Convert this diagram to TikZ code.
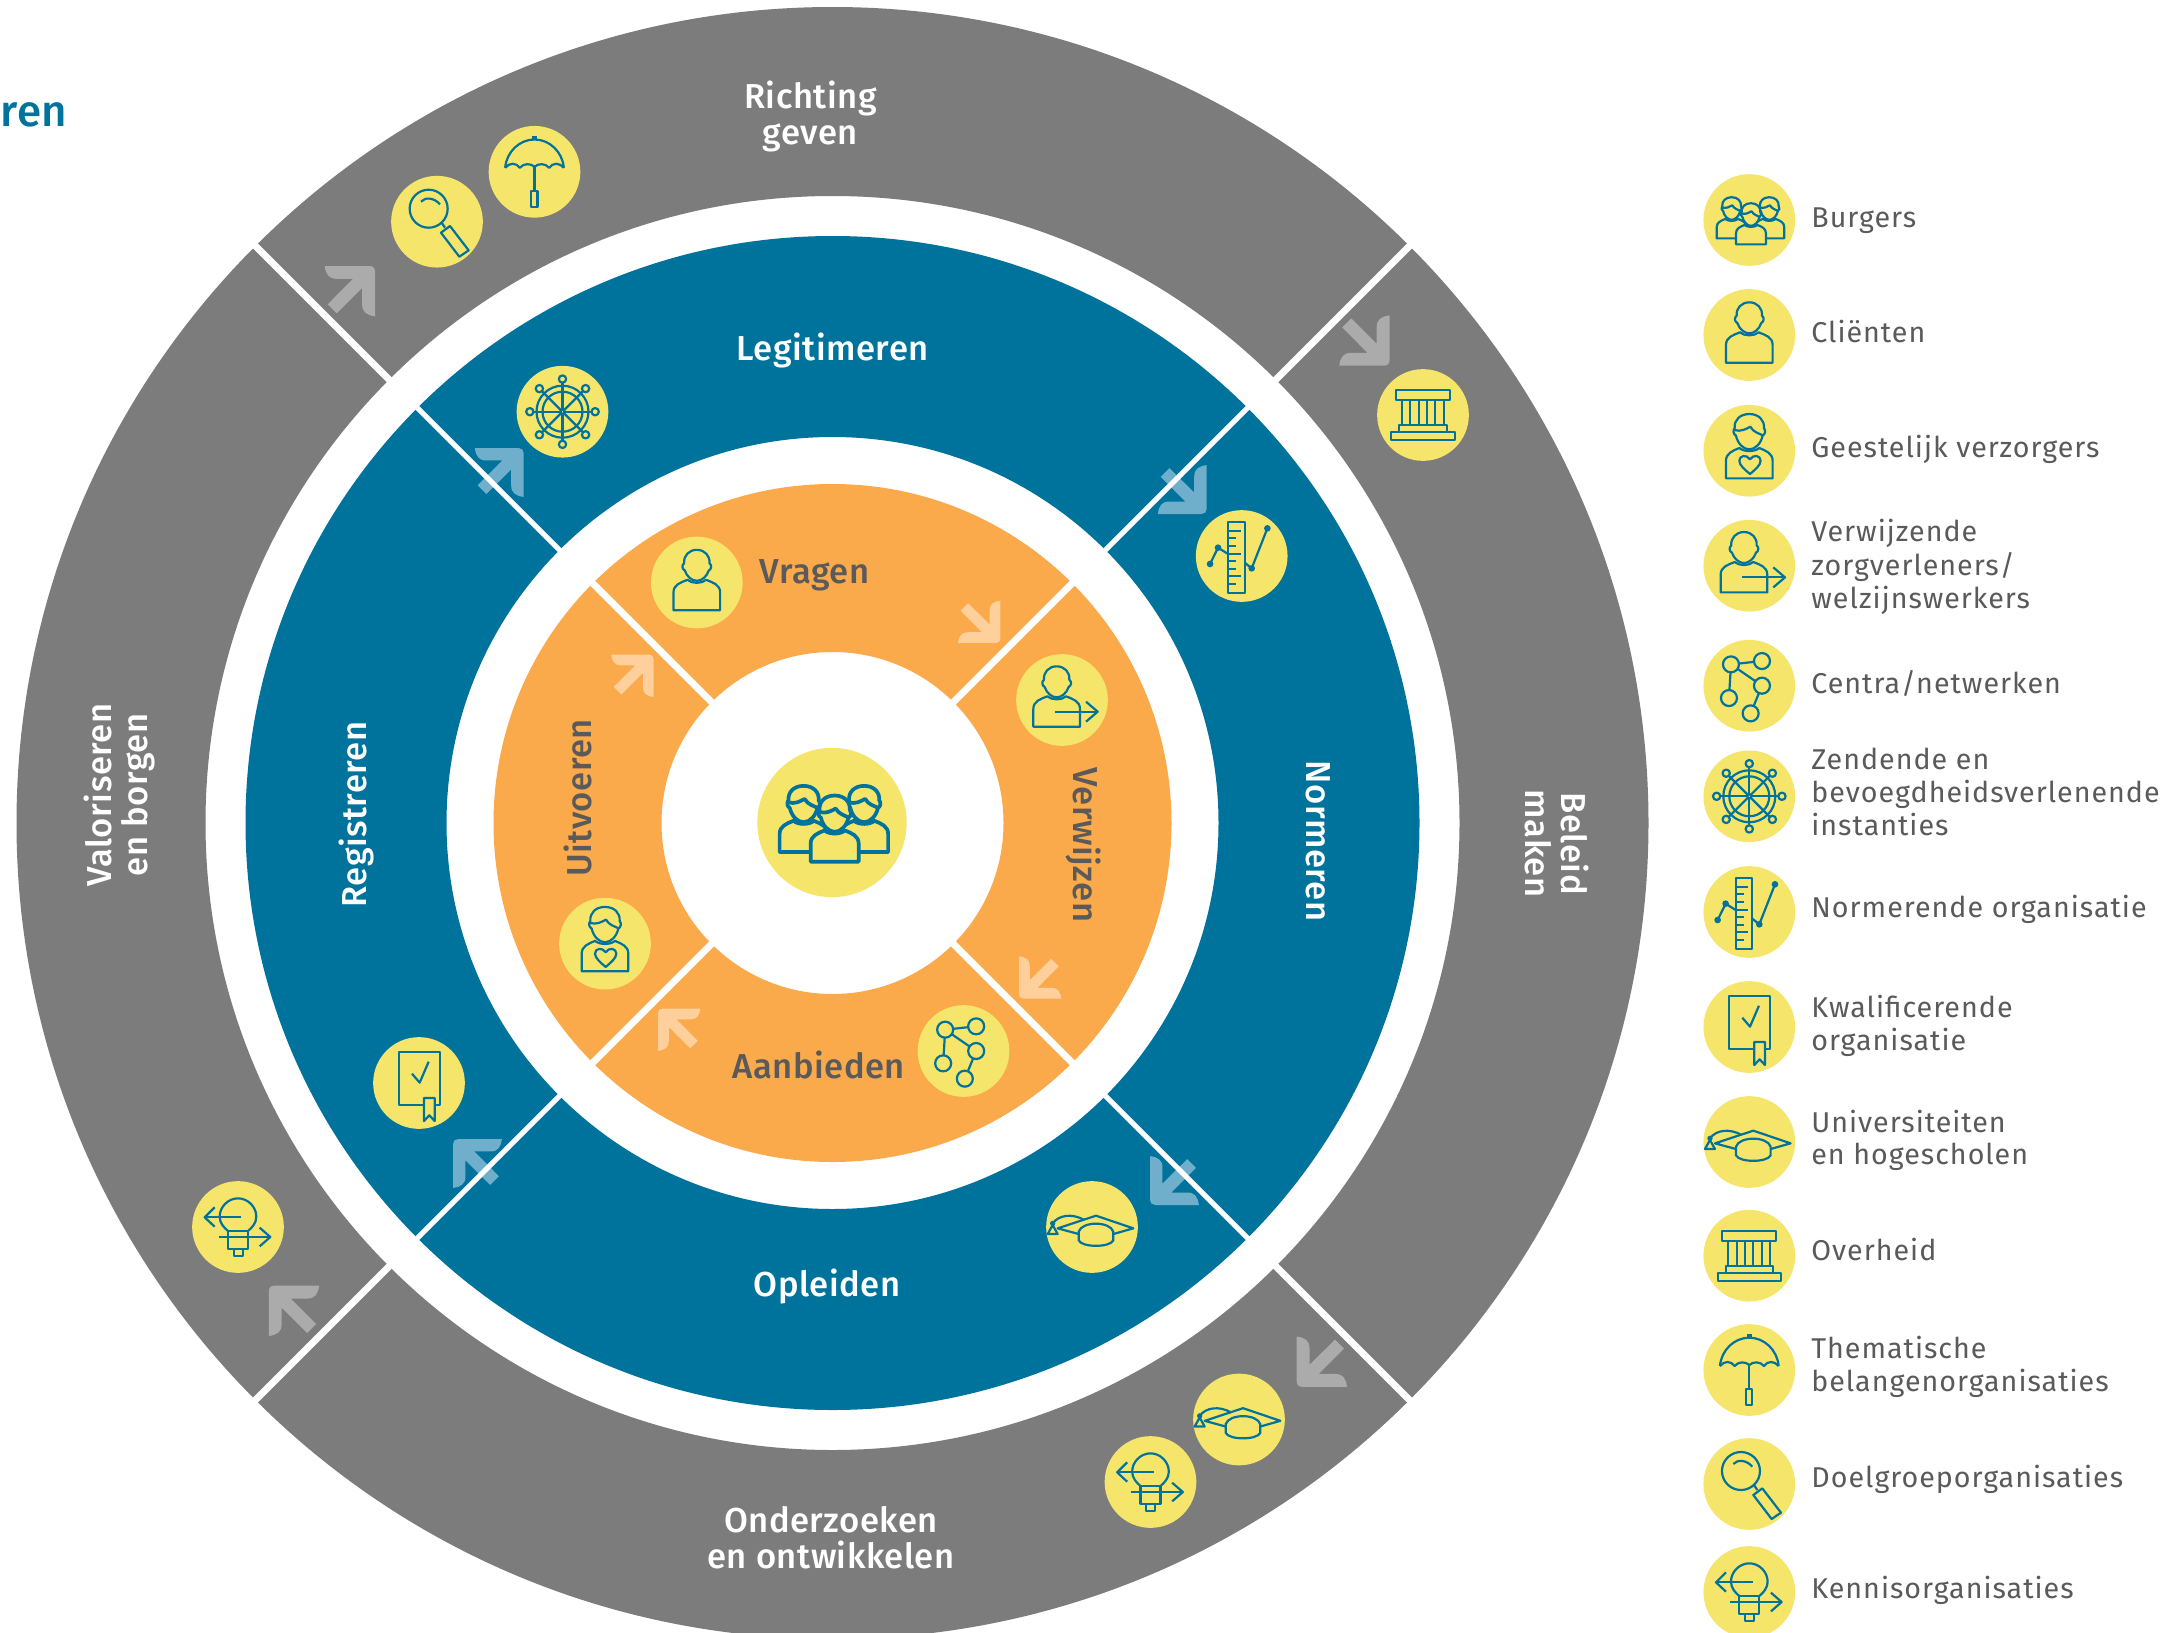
\documentclass[tikz,border=0pt]{standalone}
\usepackage{fontspec}
\setmainfont{Fira Sans}
\newfontfamily\legendfont[LetterSpace=3.5]{Fira Sans}
\newfontfamily\wheelfont[LetterSpace=1.5,BoldFont={Fira Sans Medium}]{Fira Sans}
\definecolor{ringgray}{HTML}{7C7C7C}
\definecolor{ringblue}{HTML}{00739C}
\definecolor{ringorange}{HTML}{FAA94B}
\definecolor{badgeY}{HTML}{F6E56B}
\definecolor{labelgray}{HTML}{5A5A5A}
\definecolor{arrowgray}{HTML}{ABABAB}
\definecolor{arrowblue}{HTML}{70AFCB}
\definecolor{arroworange}{HTML}{FFD09C}
\tikzset{
  iconline/.style={draw=ringblue,line width=1.25pt,line join=round},
  badgedisc/.style={circle,fill=badgeY,inner sep=0pt,minimum size=52.2pt},
  bigdisc/.style={circle,fill=badgeY,inner sep=0pt,minimum size=85pt},
  legendtext/.style={anchor=west,inner sep=0pt,align=left,text=labelgray,font=\legendfont\fontsize{16.3}{17.3}\selectfont},
  wlabel/.style={inner sep=0pt,align=center,font=\wheelfont\bfseries\fontsize{19.7}{20.4}\selectfont},
  whitelabel/.style={wlabel,text=white},
  darklabel/.style={wlabel,text=labelgray},
  sepline/.style={draw=white},
  chev/.pic={
    \fill[#1] (-47,0) -- (-5,0) .. controls (-2,0) and (0,2) .. (0,5) -- (0,47)
      .. controls (-8,46) and (-12,43) .. (-12,36) -- (-12,20.5) -- (-35.8,44.2) -- (-44.2,35.8)
      -- (-20.5,12) -- (-36,12) .. controls (-43,12) and (-46,8) .. (-47,0) -- cycle;
  }
}
\newcommand{\plainperson}{%
  \draw[iconline,fill=badgeY] (-70,83) -- (-70,30) .. controls (-70,6) and (-48,0) .. (-28,-8) .. controls (-15,4) and (15,4) .. (28,-8) .. controls (48,0) and (70,6) .. (70,30) -- (70,83) -- cycle;
  \draw[iconline,fill=badgeY] (0,-98) .. controls (24,-98) and (40,-80) .. (38,-58) .. controls (46,-52) and (44,-40) .. (36,-36) .. controls (30,-18) and (15,-5) .. (0,-5) .. controls (-15,-5) and (-30,-18) .. (-36,-36) .. controls (-44,-40) and (-46,-52) .. (-38,-58) .. controls (-40,-80) and (-24,-98) .. (0,-98) -- cycle;
}
\newcommand{\hairperson}{%
  \draw[iconline,fill=badgeY] (-70,83) -- (-70,30) .. controls (-70,8) and (-50,0) .. (-30,-8) .. controls (-15,4) and (15,4) .. (30,-8) .. controls (50,0) and (70,8) .. (70,30) -- (70,83) -- cycle;
  \draw[iconline,fill=badgeY] (0,-110) .. controls (28,-110) and (46,-92) .. (44,-68) .. controls (50,-60) and (48,-50) .. (40,-45) .. controls (35,-22) and (18,-4) .. (0,-4) .. controls (-18,-4) and (-35,-22) .. (-40,-45) .. controls (-48,-50) and (-50,-60) .. (-44,-68) .. controls (-46,-92) and (-28,-110) .. (0,-110) -- cycle;
  \draw[iconline] (-45,-62) .. controls (-25,-56) and (-10,-65) .. (3,-72) .. controls (12,-55) and (30,-52) .. (42,-45);
}
\tikzset{
  icburgers/.pic={
    \begin{scope}[shift={(-53,2)},scale=0.64]\hairperson\end{scope}
    \begin{scope}[shift={(60,2)},scale=0.64]\hairperson\end{scope}
    \begin{scope}[shift={(5,20)},scale=0.64]\hairperson\end{scope}
  },
  icclient/.pic={\plainperson},
  icspiritual/.pic={
    \hairperson
    \draw[iconline] (2,70) .. controls (-12,58) and (-30,44) .. (-30,30) .. controls (-30,14) and (-8,10) .. (2,26) .. controls (12,10) and (34,14) .. (34,30) .. controls (34,44) and (16,58) .. (2,70) -- cycle;
  },
  icreferrer/.pic={
    \begin{scope}[shift={(-16,-3)}]\plainperson\end{scope}
    \draw[iconline] (-21,35) -- (105,35);
    \draw[iconline] (72,5) -- (107,35) -- (72,65);
  },
  icnetwork/.pic={
    \draw[iconline] (-55,-64) -- (38,-74) (-55,-64) -- (38,0) (-55,-64) -- (-61,37) (38,0) -- (4,83);
    \foreach \px/\py in {-55/-64,38/-74,38/0,-61/37,4/83}
      \draw[iconline,fill=badgeY] (\px,\py) circle[radius=24];
  },
  ichelm/.pic={
    \foreach \ang in {0,45,...,315}{
      \draw[iconline] (\ang:0) -- (\ang:86);
      \draw[iconline,fill=badgeY] (\ang:98) circle[radius=11];
    }
    \draw[iconline] (0,0) circle[radius=78] (0,0) circle[radius=60];
    \draw[iconline,fill=badgeY] (0,0) circle[radius=6];
  },
  icruler/.pic={
    \draw[iconline] (-41,-103) rectangle (9,112);
    \foreach \ty/\tx in {-75/-3,-53/-16,-30/-16,-7/-3,16/-16,39/-16,61/-3,84/-16}
      \draw[iconline] (-41,\ty) -- (\tx,\ty);
    \draw[iconline] (-95,24) -- (-71,-25) -- (-41,-6);
    \draw[iconline] (9,20) -- (30,37) -- (77,-83);
    \fill[ringblue] (-95,24) circle[radius=10] (-71,-25) circle[radius=10] (30,37) circle[radius=10] (77,-83) circle[radius=10];
  },
  iccert/.pic={
    \draw[iconline] (-61,-94) rectangle (62,67);
    \draw[iconline] (-21,-28) -- (2,-1) -- (29,-64);
    \draw[iconline,fill=badgeY] (15,45) -- (47,45) -- (47,114) -- (31,97) -- (15,114) -- cycle;
  },
  iccap/.pic={
    \draw[iconline] (-40,21) -- (-103,4) -- (12,-34) -- (124,4) -- (64,21);
    \draw[iconline] (-40,40) -- (-40,14) .. controls (-30,-18) and (54,-18) .. (64,14) -- (64,40) .. controls (54,62) and (-30,62) .. (-40,40) -- cycle;
    \draw[iconline] (-23,-21) .. controls (-60,-42) and (-100,-36) .. (-118,-11);
    \fill[ringblue] (-118,-11) circle[radius=8];
    \draw[iconline] (-133,21) -- (-103,21) -- (-118,-6) -- cycle;
  },
  icgov/.pic={
    \draw[iconline] (-81,-75) rectangle (80,-45);
    \foreach \cx in {-63,-38,-13,12,37,62}
      \draw[iconline] (\cx,-45) -- (\cx,31);
    \draw[iconline] (-71,31) rectangle (72,51);
    \draw[iconline] (-95,51) rectangle (95,75);
  },
  icumbrella/.pic={
    \draw[iconline] (-88,-12) .. controls (-84,-60) and (-45,-97) .. (0,-97) .. controls (45,-97) and (84,-60) .. (88,-12);
    \draw[iconline] (-88,-12) .. controls (-75,-28) and (-55,-28) .. (-44,-12) .. controls (-33,-26) and (-11,-26) .. (0,-15) .. controls (11,-26) and (33,-26) .. (44,-12) .. controls (55,-28) and (75,-28) .. (88,-12);
    \draw[iconline] (0,-15) -- (0,58);
    \draw[iconline] (-10,58) rectangle (9,105);
    \fill[ringblue] (-7,-108) rectangle (7,-97);
  },
  icsearch/.pic={
    \draw[iconline] (-25,-39) circle[radius=57];
    \draw[iconline] (-48,-60) .. controls (-35,-75) and (-8,-72) .. (9,-52);
    \draw[iconline] (14,3) -- (24,18);
    \draw[iconline] (39,13) -- (95,86) -- (67,105) -- (12,33) -- cycle;
  },
  icknow/.pic={
    \draw[iconline] (-30,12) .. controls (-42,2) and (-55,-12) .. (-55,-31) .. controls (-55,-60) and (-30,-86) .. (0,-86) .. controls (30,-86) and (55,-60) .. (55,-31) .. controls (55,-12) and (42,2) .. (30,12);
    \draw[iconline] (-30,12) rectangle (30,66);
    \draw[iconline] (-13,66) rectangle (14,86);
    \draw[iconline] (10,-29) -- (-98,-29);
    \draw[iconline] (-70,-59) -- (-100,-29) -- (-70,-1);
    \draw[iconline] (-58,30) -- (95,30);
    \draw[iconline] (65,2) -- (97,30) -- (65,58);
  }
}
% name, x, y, icon
\newcommand{\badge}[4]{%
  \node[badgedisc] (#1) at (#2,#3) {};
  \pic[scale=0.3333] at (#1) {#4};
}
\begin{document}
\begin{tikzpicture}[x=0.02cm,y=-0.02cm]
\useasboundingbox (0,0) rectangle (2171,1633);
\clip (0,0) rectangle (2171,1633);
\fill[white] (0,0) rectangle (2171,1633);
\node[anchor=base west,inner sep=0pt,text=ringblue,font=\wheelfont\bfseries\fontsize{25}{28}\selectfont] (fragment) at (0,126) {ren};

\begin{scope}[shift={(832.5,823)}]
  \coordinate (hub) at (0,0);
  \fill[ringgray,even odd rule] (hub) circle[radius=816] (hub) circle[radius=627];
  \fill[ringblue,even odd rule] (hub) circle[radius=587] (hub) circle[radius=386];
  \fill[ringorange,even odd rule] (hub) circle[radius=339] (hub) circle[radius=171];
\end{scope}

% arrows (under the separators)
\pic[rotate=0,scale=1.07] at (375,266) {chev=arrowgray};
\pic[rotate=-90,scale=1.07] at (1389.5,365.7) {chev=arrowgray};
\pic[rotate=180,scale=1.07] at (1296.7,1386.8) {chev=arrowgray};
\pic[rotate=90,scale=1.07] at (268.8,1285.7) {chev=arrowgray};
\pic[rotate=0,scale=1.04] at (523.7,448) {chev=arrowblue};
\pic[rotate=-90,scale=1.04] at (1206.7,514) {chev=arrowblue};
\pic[rotate=180,scale=1.04] at (1150,1205) {chev=arrowblue};
\pic[rotate=90,scale=1.04] at (453,1139) {chev=arrowblue};
\pic[rotate=0,scale=0.9] at (653.6,654.6) {chev=arroworange};
\pic[rotate=-90,scale=0.9] at (1000.4,643) {chev=arroworange};
\pic[rotate=180,scale=0.9] at (1019,998.6) {chev=arroworange};
\pic[rotate=90,scale=0.9] at (658,1008.6) {chev=arroworange};

% separators
\begin{scope}[shift={(832.5,823)}]
  \foreach \ang in {45,135,225,315}{
    \draw[sepline,line width=3.9pt] (\ang:625) -- (\ang:820);
    \draw[sepline,line width=3pt] (\ang:384) -- (\ang:590);
    \draw[sepline,line width=3.9pt] (\ang:169) -- (\ang:342);
  }
\end{scope}

% wheel labels
\node[whitelabel] (richting) at (810.5,116.5) {Richting\\geven};
\node[whitelabel] (onderzoeken) at (831,1538) {Onderzoeken\\en ontwikkelen};
\node[whitelabel,rotate=90] (valoriseren) at (119.3,795) {Valoriseren\\en borgen};
\node[whitelabel,rotate=-90] (beleid) at (1557,843.7) {Beleid\\maken};
\node[whitelabel] (legitimeren) at (832.6,350) {Legitimeren};
\node[whitelabel] (opleiden) at (827,1286.5) {Opleiden};
\node[whitelabel,rotate=90] (registreren) at (356,814.6) {Registreren};
\node[whitelabel,rotate=-90] (normeren) at (1318.5,841) {Normeren};
\node[darklabel] (vragen) at (814.6,575.5) {Vragen};
\node[darklabel] (aanbieden) at (818.8,1065) {Aanbieden};
\node[darklabel,rotate=90] (uitvoeren) at (578,798) {Uitvoeren};
\node[darklabel,rotate=-90] (verwijzen) at (1083.5,845) {Verwijzen};

% wheel badges
\badge{wumbrella}{534.5}{171.8}{icumbrella}
\badge{wsearch}{437}{221.7}{icsearch}
\badge{whelm}{562.5}{411.7}{ichelm}
\badge{wgov}{1423}{415}{icgov}
\badge{wruler}{1241.7}{556}{icruler}
\badge{wclient}{696.8}{582.5}{icclient}
\badge{wreferrer}{1062}{700}{icreferrer}
\badge{wspiritual}{605}{943.6}{icspiritual}
\badge{wnetwork}{963.5}{1051}{icnetwork}
\badge{wcapblue}{1092}{1227}{iccap}
\badge{wcert}{419}{1083}{iccert}
\badge{wknowleft}{238}{1227}{icknow}
\badge{wcapgray}{1239}{1419.5}{iccap}
\badge{wknowbottom}{1150.5}{1482}{icknow}
\node[bigdisc] (wcentre) at (832,822.5) {};
\begin{scope}[iconline/.append style={line width=2.1pt}]
  \pic[scale=0.5357] at (wcentre) {icburgers};
\end{scope}

% legend
\badge{lburgers}{1749.3}{220}{icburgers}
\badge{lclient}{1749.3}{335}{icclient}
\badge{lspiritual}{1749.3}{450.7}{icspiritual}
\badge{lreferrer}{1749.3}{565.7}{icreferrer}
\badge{lnetwork}{1749.3}{685.7}{icnetwork}
\badge{lhelm}{1749.3}{796.3}{ichelm}
\badge{lruler}{1749.3}{912}{icruler}
\badge{lcert}{1749.3}{1027}{iccert}
\badge{lcap}{1749.3}{1142}{iccap}
\badge{lgov}{1749.3}{1255.7}{icgov}
\badge{lumbrella}{1749.3}{1370}{icumbrella}
\badge{lsearch}{1749.3}{1484}{icsearch}
\badge{lknow}{1749.3}{1592}{icknow}

\node[legendtext] (t1) at (1811,221) {\strut Burgers};
\node[legendtext] (t2) at (1811,336) {\strut Cliënten};
\node[legendtext] (t3) at (1811,451) {\strut Geestelijk verzorgers};
\node[legendtext] (t4) at (1811,568.5) {\strut Verwijzende\\\strut zorgverleners/\\\strut welzijnswerkers};
\node[legendtext] (t5) at (1811,686) {\strut Centra/netwerken};
\node[legendtext] (t6) at (1811,796.5) {\strut Zendende en\\\strut bevoegdheidsverlenende\\\strut instanties};
\node[legendtext] (t7) at (1811,911) {\strut Normerende organisatie};
\node[legendtext] (t8) at (1811,1027) {\strut Kwalificerende\\\strut organisatie};
\node[legendtext] (t9) at (1811,1142) {\strut Universiteiten\\\strut en hogescholen};
\node[legendtext] (t10) at (1811,1254) {\strut Overheid};
\node[legendtext] (t11) at (1811,1368) {\strut Thematische\\\strut belangenorganisaties};
\node[legendtext] (t12) at (1811,1481) {\strut Doelgroeporganisaties};
\node[legendtext] (t13) at (1811,1592) {\strut Kennisorganisaties};
\end{tikzpicture}
\end{document}
